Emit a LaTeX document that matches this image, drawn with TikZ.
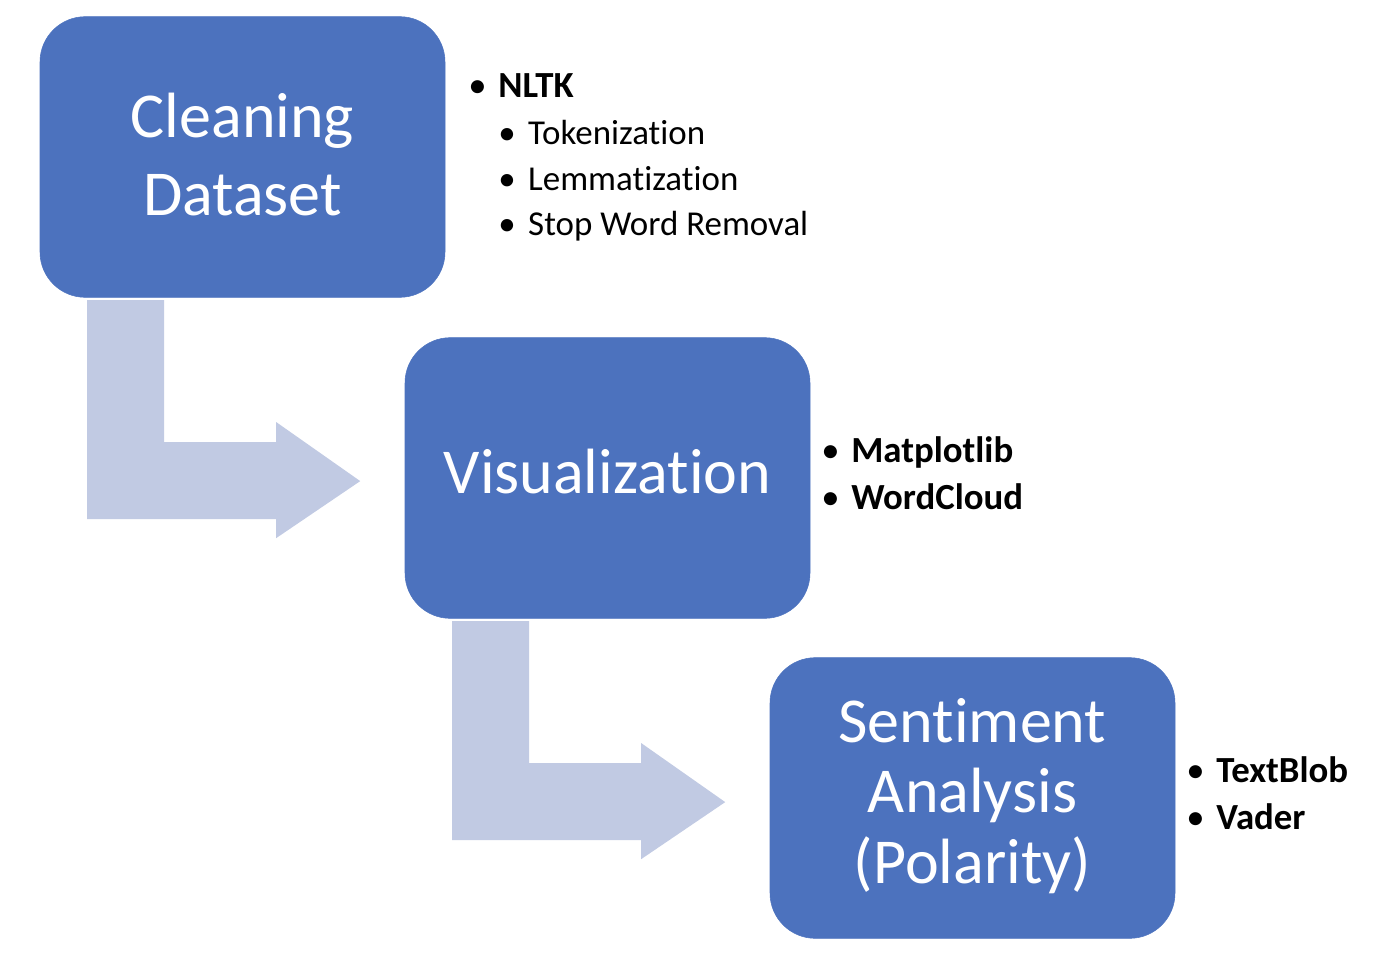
\documentclass[tikz,border=0pt]{standalone}
\usepackage{fontspec}
\setmainfont{Carlito}[Ligatures=CommonOff]
\usepackage{tikz}
\usetikzlibrary{calc}

\definecolor{stepblue}{RGB}{76,114,190}
\definecolor{flowgray}{RGB}{193,202,227}
\newcommand{\bul}{\makebox[22.5pt][l]{\textbullet}}
% first baseline raised #1 above the box centre
\newcommand{\stagetext}[2]{\raisebox{#1}[0pt][0pt]{\begin{tabular}[t]{@{}c@{}}#2\end{tabular}}}

\tikzset{
  stage/.style={fill=stepblue, draw=stepblue, rounded corners=34pt, minimum width=303.75pt, minimum height=210.5pt, align=center, text=white, font=\fontsize{48}{53}\selectfont, inner sep=0pt},
  flow/.style={fill=flowgray},
  toplist/.style={anchor=base west, inner sep=0pt, font=\fontsize{27.6}{32}\selectfont},
  sublist/.style={anchor=base west, inner sep=0pt, font=\fontsize{26.2}{31}\selectfont}
}

\begin{document}
\begin{tikzpicture}[x=0.75pt,y=0.75pt,yscale=-1,xscale=1]
\useasboundingbox (0,0) rectangle (1374,956);
%Shape: Rounded Rect [id:clean]
\node [stage, font=\fontsize{48}{58.5}\selectfont] (clean) at (242.5,157) {\stagetext{15pt}{Cleaning\\Dataset}};
%Shape: Rounded Rect [id:vis]
\node [stage] (vis) at (607.5,478) {\stagetext{-11.25pt}{Visualization}};
%Shape: Rounded Rect [id:senti]
\node [stage] (senti) at (972.5,798) {\stagetext{42pt}{Sentiment\\Analysis\\(Polarity)}};

%Bent Arrows
\foreach \b in {clean,vis}
  \fill [flow] ($(\b.south west)+(47.5,2.5)$) -- ++(77,0) -- ++(0,142) -- ++(112,0) -- ++(0,-20) -- ++(84,59) -- ++(-84,57) -- ++(0,-19) -- ++(-189,0) -- cycle ;

% Text Node
\node [toplist] (nltk) at (468,98) {\bul\textbf{NLTK}};
% Text Node
\node [sublist] (tok) at (498,144) {\bul Tokenization};
% Text Node
\node [sublist] (lem) at (498,190) {\bul Lemmatization};
% Text Node
\node [sublist] (stop) at (498,235) {\bul Stop Word Removal};
% Text Node
\node [toplist] (mpl) at (821,462) {\bul\textbf{Matplotlib}};
% Text Node
\node [toplist] (wc) at (821,509) {\bul\textbf{WordCloud}};
% Text Node
\node [toplist] (tb) at (1186,782) {\bul\textbf{TextBlob}};
% Text Node
\node [toplist] (vader) at (1186,829) {\bul\textbf{Vader}};
\end{tikzpicture}
\end{document}
